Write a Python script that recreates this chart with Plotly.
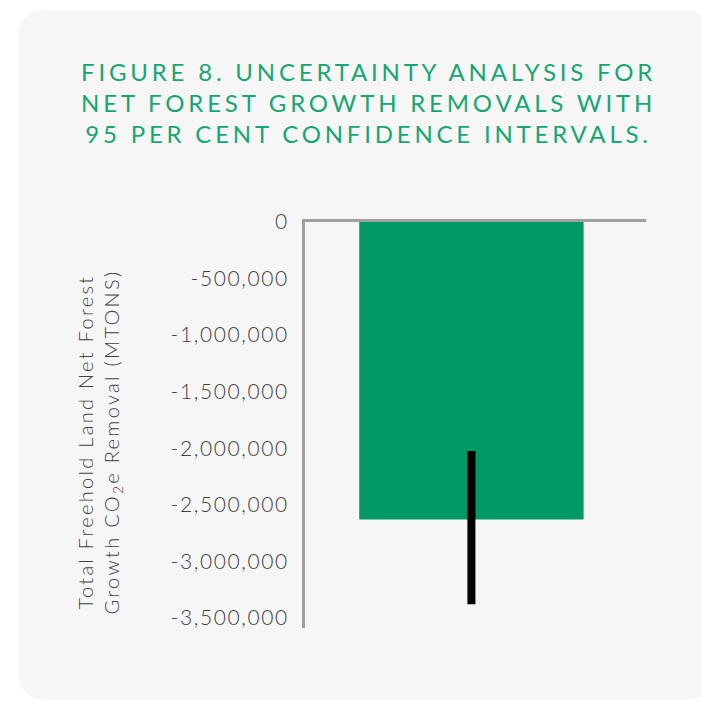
import plotly.graph_objects as go

# ---- data ----
categories = ["Net forest growth removals"]
values = [-2630000]
ci_upper = [-2025000]   # upper (less negative) bound of 95% CI
ci_lower = [-3380000]   # lower (more negative) bound of 95% CI
tick_vals = [0, -500000, -1000000, -1500000, -2000000, -2500000, -3000000, -3500000]
tick_text = ["0", "-500,000", "-1,000,000", "-1,500,000", "-2,000,000",
             "-2,500,000", "-3,000,000", "-3,500,000"]
title_text = ("FIGURE 8. UNCERTAINTY ANALYSIS FOR<br>NET FOREST GROWTH REMOVALS WITH"
              "<br>95 PER CENT CONFIDENCE INTERVALS.")
ytitle_text = "Total Freehold Land Net Forest<br>Growth CO<sub>2</sub>e Removal (MTONS)"

err_plus = [u - v for u, v in zip(ci_upper, values)]
err_minus = [v - l for v, l in zip(values, ci_lower)]

W, H = 702, 703
L, R, T, B = 305, 646, 222, 628  # plot area in pixels
ml, mr, mt, mb = L, W - R, T, H - B


def px(x):
    return (x - L) / (R - L)


def py(y):
    return (B - y) / (B - T)


fig = go.Figure()
fig.add_trace(go.Bar(
    x=[0], y=values, width=0.658,
    marker=dict(color="#009966", line=dict(width=0)),
    error_y=dict(type="data", symmetric=False, array=err_plus, arrayminus=err_minus,
                 color="black", thickness=8, width=0),
    hovertext=categories, showlegend=False,
))

# rounded panel background
x0, x1, y0, y1, r = 18, 712, 10, 700, 30
pts = [
    ("M", [(x0 + r, y0)]),
    ("L", [(x1 - r, y0)]),
    ("Q", [(x1, y0), (x1, y0 + r)]),
    ("L", [(x1, y1 - r)]),
    ("Q", [(x1, y1), (x1 - r, y1)]),
    ("L", [(x0 + r, y1)]),
    ("Q", [(x0, y1), (x0, y1 - r)]),
    ("L", [(x0, y0 + r)]),
    ("Q", [(x0, y0), (x0 + r, y0)]),
]
path = ""
for cmd, ps in pts:
    path += cmd + " " + " ".join(f"{px(a):.5f},{py(b):.5f}" for a, b in ps) + " "
path += "Z"

fig.add_shape(type="path", path=path, xref="paper", yref="paper",
              fillcolor="#f6f6f6", line=dict(width=0), layer="below")

fig.add_annotation(text=title_text, xref="paper", yref="paper",
                   x=px(368), y=py(103), xanchor="center", yanchor="middle",
                   showarrow=False, align="center",
                   font=dict(family="Lato", size=24, color="#17a673"))

fig.add_annotation(text=ytitle_text, xref="paper", yref="paper",
                   x=px(98.5), y=py(442), xanchor="center", yanchor="middle",
                   textangle=-90, showarrow=False, align="center",
                   font=dict(family="Lato", size=20, color="#404040", weight=300))

fig.update_layout(
    width=W, height=H,
    margin=dict(l=ml, r=mr, t=mt, b=mb),
    paper_bgcolor="white", plot_bgcolor="rgba(0,0,0,0)",
    xaxis=dict(range=[-0.488, 0.512], showticklabels=False, showgrid=False,
               zeroline=False, showline=True, side="top", linecolor="#a0a0a0",
               linewidth=3, ticks=""),
    yaxis=dict(range=[-3590000, 0], tickvals=tick_vals, ticktext=tick_text,
               showgrid=False, zeroline=False, showline=True, linecolor="#a0a0a0",
               linewidth=3, ticks="", ticklabelstandoff=9,
               tickfont=dict(family="Lato", size=21, color="#404040", weight=300)),
    font=dict(family="Lato"),
)

post = """
document.body.style.margin = '0';
document.body.style.overflow = 'hidden';
var gd = document.getElementById('{plot_id}');
function spacing(){
  gd.querySelectorAll('.annotation-text').forEach(function(e){
    if (e.textContent.indexOf('FIGURE') === 0) { e.style.letterSpacing = '3.8px'; }
    else { e.style.letterSpacing = '2.3px'; }
  });
  gd.querySelectorAll('.ytick text').forEach(function(e){
    e.style.letterSpacing = '1.6px';
  });
}
spacing();
gd.on('plotly_afterplot', spacing);
"""

fig.write_html("out.html", post_script=post, config={"displayModeBar": False})
